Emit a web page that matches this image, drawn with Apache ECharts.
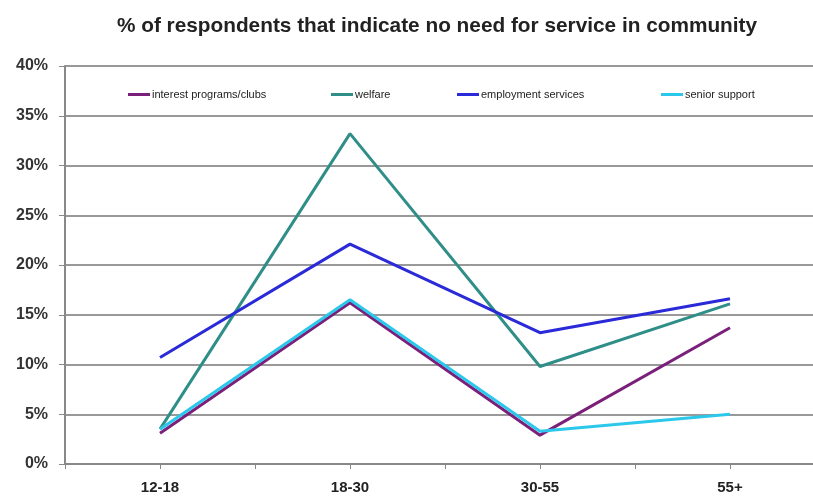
<!DOCTYPE html>
<html><head><meta charset="utf-8">
<script src="https://cdn.jsdelivr.net/npm/echarts@6/dist/echarts.min.js"></script>
<style>html,body{margin:0;padding:0;background:#fff;overflow:hidden}#c{width:825px;height:497px}</style>
</head><body><div id="c"></div>
<script>
const categories = ['12-18', '18-30', '30-55', '55+'];
const interestPrograms = [3.1, 16.2, 2.9, 13.7];
const welfare = [3.5, 33.2, 9.8, 16.1];
const employment = [10.7, 22.1, 13.2, 16.6];
const seniorSupport = [3.5, 16.5, 3.3, 5.0];
const seriesNames = ['interest programs/clubs', 'welfare', 'employment services', 'senior support'];
const yTicks = [0, 5, 10, 15, 20, 25, 30, 35, 40];

const colors = ['#7a1f7a', '#2f8f88', '#2a2ad8', '#2cc8ec'];
const chart = echarts.init(document.getElementById('c'));
const legendLefts = [123, 326, 452, 656];
const seriesData = [interestPrograms, welfare, employment, seniorSupport];
chart.setOption({
  animation: false,
  title: {
    text: '% of respondents that indicate no need for service in community',
    left: 432, top: 11, textAlign: 'center',
    textStyle: { fontFamily: 'Liberation Sans, Arial', fontWeight: 'bold', fontSize: 20.8, color: '#222' }
  },
  legend: seriesNames.map((n, i) => ({
    data: [n], left: legendLefts[i], top: 84, itemWidth: 22, itemHeight: 3, itemGap: 2,
    icon: 'rect',
    textStyle: { fontFamily: 'Liberation Sans, Arial', fontSize: 11, color: '#222', padding: [0, 0, 0, -3] }
  })),
  grid: { left: 65, right: 0, top: 66, bottom: 33 },
  xAxis: [{
    type: 'category', data: categories, boundaryGap: true,
    axisLine: { show: true, lineStyle: { color: '#888', width: 2 } },
    axisTick: { show: false },
    axisLabel: { margin: 16, fontFamily: 'Liberation Sans, Arial', fontWeight: 'bold', fontSize: 15, color: '#222' }
  }, {
    type: 'category', data: ['', '', '', '', '', '', '', ''], position: 'bottom', boundaryGap: true,
    axisLine: { show: false },
    axisTick: { show: true, length: 5, inside: false, lineStyle: { color: '#888', width: 1 } },
    axisLabel: { show: false }
  }],
  yAxis: {
    type: 'value', min: 0, max: 40, interval: 5,
    axisLine: { show: true, lineStyle: { color: '#888', width: 2 } },
    axisTick: { show: true, length: 6, lineStyle: { color: '#888', width: 1 } },
    splitLine: { show: true, lineStyle: { color: '#999', width: 2 } },
    axisLabel: {
      margin: 17, fontFamily: 'Liberation Sans, Arial', fontWeight: 'bold', fontSize: 16, color: '#333',
      formatter: v => yTicks.includes(v) ? v + '%' : ''
    }
  },
  series: seriesNames.map((n, i) => ({
    name: n, type: 'line', data: seriesData[i], xAxisIndex: 0,
    symbol: 'none', lineStyle: { width: 3, color: colors[i] }, itemStyle: { color: colors[i] }
  }))
});
</script></body></html>
